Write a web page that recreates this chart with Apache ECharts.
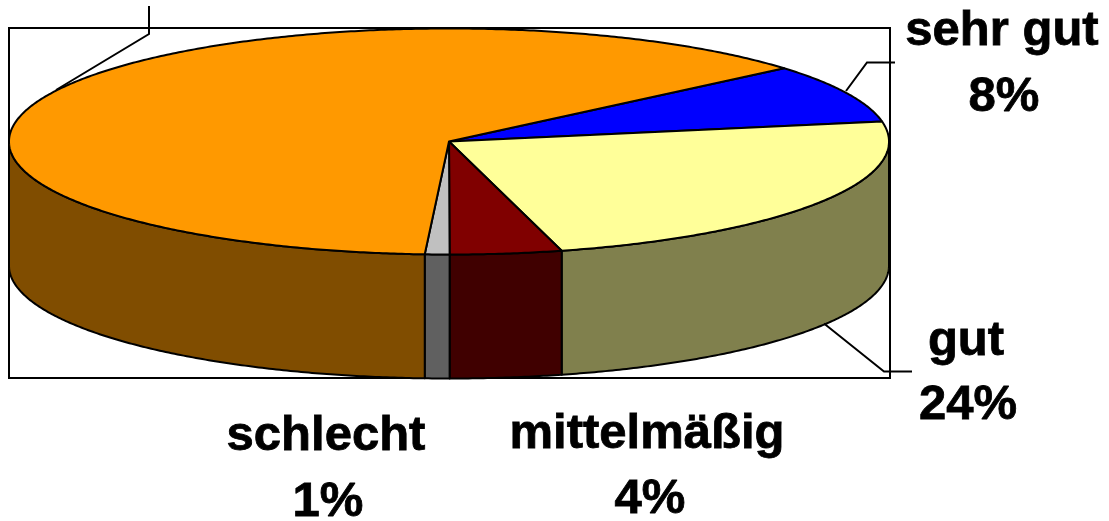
<!DOCTYPE html>
<html>
<head>
<meta charset="utf-8">
<style>html,body{margin:0;padding:0;background:#fff}#c{width:1109px;height:521px}</style>
<script src="https://cdn.jsdelivr.net/npm/echarts@6/dist/echarts.min.js"></script>
</head>
<body>
<div id="c"></div>
<script>
// Data (the last slice's label is cut off in the reference)
const categories = ['sehr gut', 'gut', 'mittelmäßig', 'schlecht', ''];
const percents = [8.4, 23.7, 4.1, 0.9, 62.9];
const topColors = ['#0000FF', '#FFFF99', '#800000', '#C0C0C0', '#FF9900'];
const sideColors = ['#000080', '#80804D', '#400000', '#606060', '#804D00'];

// Layout, separate from the data
const CX = 449, CY = 141.5, RX = 440, RY = 113, DEPTH = 124, START = 49.6;
const FONT = 'bold 49px "Liberation Sans", Arial, sans-serif';
const ASCENT = 40;
const labelSpots = [
  {i: 0, x: 1002, nameY: 47, valueY: 113, valueX: 1004},
  {i: 1, x: 966, nameY: 357, valueY: 421, valueX: 968},
  {i: 2, x: 647, nameY: 450, valueY: 515, valueX: 650},
  {i: 3, x: 326, nameY: 452, valueY: 518, valueX: 328}
];
const leaders = [
  [[149, 6], [149, 34], [56, 90]],
  [[846, 91], [867, 62.5], [895, 62.5]],
  [[824, 323.5], [884, 371.5], [912, 371.5]]
];

const total = percents.reduce((a, b) => a + b, 0);
const starts = [];
percents.reduce((acc, v, i) => { starts[i] = acc; return acc + v / total * 360; }, START);

function pt(deg, dy) {
  const r = deg * Math.PI / 180;
  return [CX + RX * Math.sin(r), CY - RY * Math.cos(r) + (dy || 0)];
}
function arc(a, b, dy) {
  const out = [], n = Math.max(2, Math.ceil(Math.abs(b - a) * 2));
  for (let k = 0; k <= n; k++) out.push(pt(a + (b - a) * k / n, dy));
  return out;
}

function renderItem(params, api) {
  const i = params.dataIndex;
  const a = starts[i], b = a + api.value(0) / total * 360;
  const children = [];
  const from = Math.max(a, 90), to = Math.min(b, 270);
  const style = c => ({fill: c, stroke: '#000', lineWidth: 2, lineJoin: 'round'});
  if (to > from) {
    children.push({
      type: 'polygon',
      shape: {points: arc(from, to, 0).concat(arc(to, from, DEPTH))},
      style: style(sideColors[i])
    });
  }
  children.push({
    type: 'polygon',
    shape: {points: [[CX, CY]].concat(arc(a, b, 0))},
    style: style(topColors[i])
  });
  return {type: 'group', children};
}

const graphics = [{
  type: 'rect', z: 0, silent: true,
  shape: {x: 9, y: 28, width: 881, height: 350},
  style: {fill: 'none', stroke: '#000', lineWidth: 2}
}];
leaders.forEach(p => graphics.push({
  type: 'polyline', z: 10, silent: true, shape: {points: p},
  style: {fill: 'none', stroke: '#000', lineWidth: 2}
}));
function addText(text, x, baseline) {
  graphics.push({
    type: 'text', z: 10, silent: true, x: x, y: baseline - ASCENT,
    style: {text: text, font: FONT, fill: '#000', stroke: '#000', lineWidth: 0.8, align: 'center', verticalAlign: 'top'}
  });
}
labelSpots.forEach(s => {
  addText(categories[s.i], s.x, s.nameY);
  addText(Math.round(percents[s.i]) + '%', s.valueX, s.valueY);
});

const chart = echarts.init(document.getElementById('c'));
chart.setOption({
  animation: false,
  backgroundColor: '#fff',
  graphic: graphics,
  series: [{
    type: 'custom',
    coordinateSystem: 'none',
    silent: true,
    z: 2,
    data: percents.map((v, i) => ({name: categories[i], value: [v]})),
    encode: {value: 0},
    renderItem
  }]
});
</script>
</body>
</html>
